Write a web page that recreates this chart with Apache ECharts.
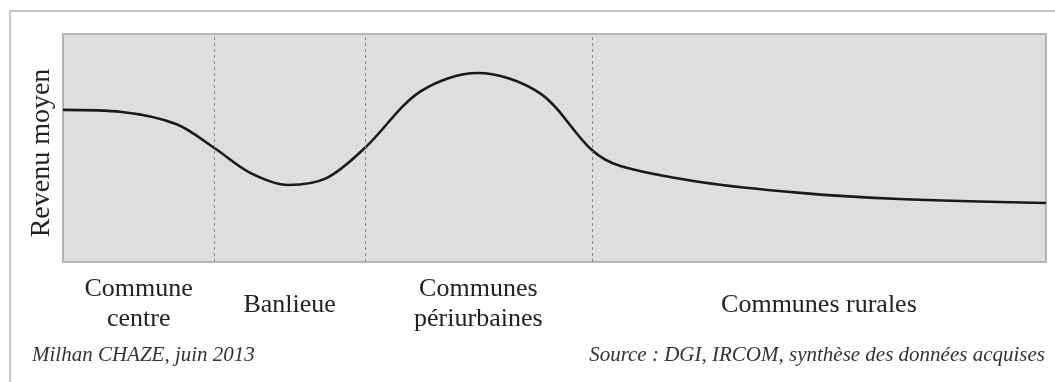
<!DOCTYPE html>
<html>
<head>
<meta charset="utf-8">
<script src="https://cdn.jsdelivr.net/npm/echarts@6/dist/echarts.min.js"></script>
<style>
html,body{margin:0;padding:0;background:#fff;}
#c{width:1055px;height:382px;}
</style>
</head>
<body>
<div id="c"></div>
<script>
// Curve (relative distance from centre 0..1000, relative income 0..100)
const distance = [0, 60, 115, 154, 190, 229, 268, 307, 363, 422, 485, 538, 567, 648, 750, 851, 1000];
const income   = [66.7, 65.8, 60.5, 50.0, 39.2, 33.8, 36.8, 50.0, 74.6, 82.9, 74.1, 49.1, 42.1, 35.1, 30.3, 27.6, 25.9];
// Zones
const zoneBounds = [0, 154, 307, 538, 1000];
const zoneNames = ['Commune\ncentre', 'Banlieue', 'Communes\npériurbaines', 'Communes rurales'];
const yName = 'Revenu moyen';
const authorText = 'Milhan CHAZE, juin 2013';
const sourceText = 'Source : DGI, IRCOM, synthèse des données acquises';

const FONT = "'Liberation Serif', 'DejaVu Serif', serif";
const lineData = distance.map((d, i) => [d, income[i]]);

const areas = zoneNames.map((n, i) => {
  const twoLines = n.indexOf('\n') >= 0;
  return [
    { xAxis: zoneBounds[i], yAxis: 0, name: n,
      label: { distance: twoLines ? 12 : 28 } },
    { xAxis: zoneBounds[i + 1], yAxis: 100 }
  ];
});

const chart = echarts.init(document.getElementById('c'), null, { renderer: 'canvas' });
chart.setOption({
  animation: false,
  backgroundColor: '#ffffff',
  grid: {
    left: 63, right: 9, top: 34, bottom: 120,
    show: true, backgroundColor: '#dedede', borderColor: '#a3a3a3', borderWidth: 1.5
  },
  xAxis: {
    type: 'value', min: 0, max: 1000,
    axisLine: { show: false }, axisTick: { show: false },
    axisLabel: { show: false }, splitLine: { show: false }
  },
  yAxis: {
    type: 'value', min: 0, max: 100,
    name: yName, nameLocation: 'middle', nameRotate: 90, nameGap: 7,
    nameTextStyle: { fontFamily: FONT, fontSize: 28, color: '#222', padding: [0, 10, 0, 0] },
    axisLine: { show: false }, axisTick: { show: false },
    axisLabel: { show: false }, splitLine: { show: false }
  },
  graphic: [
    { type: 'rect', silent: true, z: -1,
      shape: { x: 10, y: 11, width: 1080, height: 400 },
      style: { fill: 'none', stroke: '#b3b3b3', lineWidth: 1.5 } },
    { type: 'text', left: 32, top: 345,
      style: { text: authorText, font: "italic 21px " + FONT, fill: '#333' } },
    { type: 'text', right: 10, top: 345,
      style: { text: sourceText, font: "italic 21px " + FONT, fill: '#333' } }
  ],
  series: [{
    type: 'line',
    data: lineData,
    smooth: 0.33,
    showSymbol: false,
    lineStyle: { color: '#1a1a1a', width: 2.6 },
    markLine: {
      silent: true, symbol: 'none',
      label: { show: false },
      lineStyle: { type: [3, 3], color: '#8a8a8a', width: 1 },
      data: zoneBounds.slice(1, -1).map(v => ({ xAxis: v }))
    },
    markArea: {
      silent: true,
      itemStyle: { color: 'rgba(0,0,0,0)' },
      label: {
        show: true, position: 'bottom',
        fontFamily: FONT, fontSize: 26, color: '#222',
        lineHeight: 30, align: 'center'
      },
      data: areas
    }
  }]
});
</script>
</body>
</html>
